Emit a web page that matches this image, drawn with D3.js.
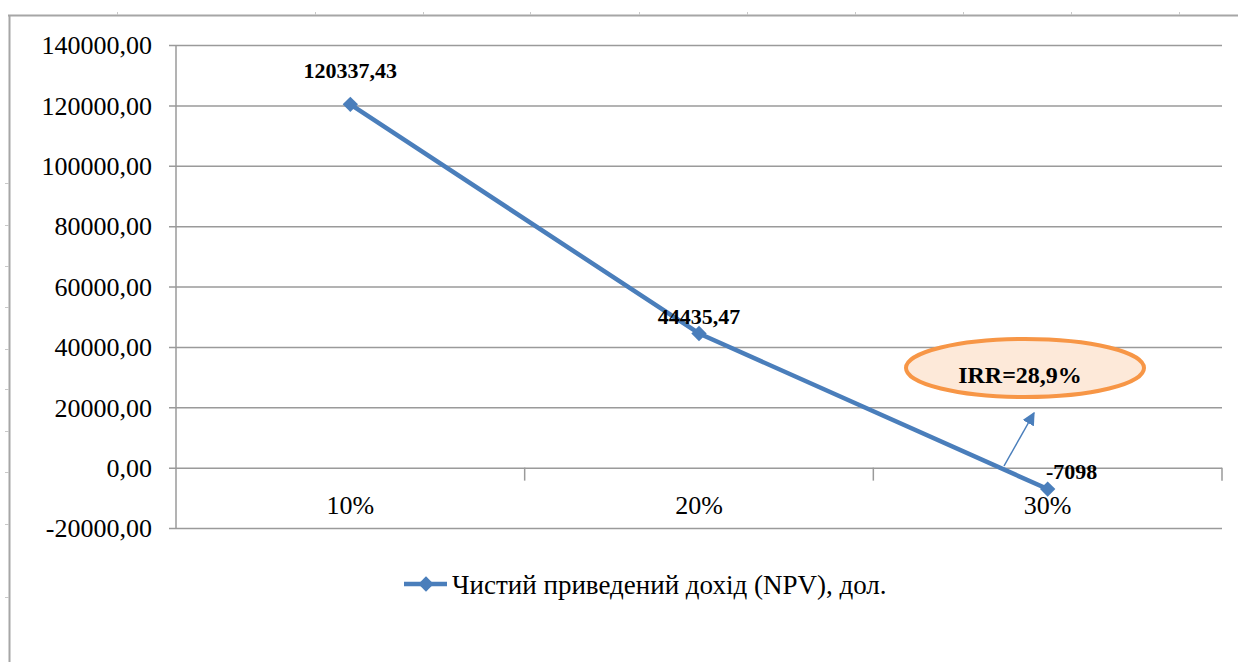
<!DOCTYPE html>
<html>
<head>
<meta charset="utf-8">
<script src="https://cdn.jsdelivr.net/npm/d3@7"></script>
<style>
  html, body { margin: 0; padding: 0; background: #fff; }
  svg { display: block; }
  svg text { font-family: "Times New Roman", "Liberation Serif", Tinos, Times, "DejaVu Serif", serif !important; fill: #000; }
</style>
</head>
<body>
<svg id="chart" width="1238" height="662"></svg>
<script>
// ---- data ----
const categories = ["10%", "20%", "30%"];
const npvValues = [120337.43, 44435.47, -7098];
const npvLabels = ["120337,43", "44435,47", "-7098"];
const yTicks = [-20000, 0, 20000, 40000, 60000, 80000, 100000, 120000, 140000];
const seriesName = "Чистий приведений дохід (NPV), дол.";
const irrLabel = "IRR=28,9%";
const frameTopTicks = [117, 315, 423, 530, 639, 747, 855, 963, 1071, 1179];
const frameLeftTicks = [183, 225, 266, 307, 349, 389, 431, 472, 524, 597];

const svg = d3.select("#chart");
const W = 1238, H = 662;
const plot = { left: 176, right: 1222, top: 45, bottom: 528 };

const x = d3.scaleBand().domain(categories).range([plot.left, plot.right]).padding(0);
const y = d3.scaleLinear().domain([-20000, 140000]).range([plot.bottom, plot.top]);
const cx = d => x(d) + x.bandwidth() / 2;

const gridColor = "#9a9a9a";
const lineColor = "#4a7ebb";

// outer frame (partial border of surrounding object)
svg.append("line").attr("x1", 8).attr("x2", W).attr("y1", 15.5).attr("y2", 15.5)
  .attr("stroke", "#a6a6a6").attr("stroke-width", 2);
svg.append("line").attr("x1", 9.5).attr("x2", 9.5).attr("y1", 15).attr("y2", H)
  .attr("stroke", "#a6a6a6").attr("stroke-width", 2);
svg.selectAll(".ftt").data(frameTopTicks).enter().append("line")
  .attr("x1", d => d + 0.5).attr("x2", d => d + 0.5).attr("y1", 12).attr("y2", 15)
  .attr("stroke", "#c8c8c8").attr("stroke-width", 1);
svg.selectAll(".flt").data(frameLeftTicks).enter().append("line")
  .attr("x1", 5).attr("x2", 9).attr("y1", d => d + 0.5).attr("y2", d => d + 0.5)
  .attr("stroke", "#c8c8c8").attr("stroke-width", 1);

// y gridlines + axis
const yAxis = d3.axisLeft(y).tickValues(yTicks)
  .tickSize(-(plot.right - plot.left))
  .tickFormat(d => d3.format(".2f")(d).replace(".", ",").replace("−", "-"));
const gy = svg.append("g").attr("transform", `translate(${plot.left},0)`).call(yAxis);
gy.attr("font-family", null);
gy.select(".domain").attr("stroke", gridColor).attr("stroke-width", 1.5)
  .attr("d", `M0,${plot.top}V${plot.bottom}`);
gy.selectAll(".tick line").attr("stroke", gridColor).attr("stroke-width", 1.5).attr("x1", -7);
gy.selectAll(".tick text").attr("x", -24).attr("dy", "0.34em")
  .style("font-size", "26px");

// category axis at y = 0
const xAxis = d3.axisBottom(x).tickSize(0).tickFormat(d => d);
const gx = svg.append("g").attr("transform", `translate(0,${y(0)})`).call(xAxis);
gx.attr("font-family", null);
gx.select(".domain").remove();
gx.selectAll(".tick text").attr("y", 46).attr("dy", 0)
  .style("font-size", "26px");
// category separators
const seps = categories.slice(1).map(c => x(c)).concat([plot.right]);
svg.selectAll(".sep").data(seps).enter().append("line")
  .attr("x1", d => d).attr("x2", d => d).attr("y1", y(0)).attr("y2", y(0) + 13)
  .attr("stroke", gridColor).attr("stroke-width", 1.5);

// series line
const pts = categories.map((c, i) => ({ c, v: npvValues[i], label: npvLabels[i] }));
const line = d3.line().x(d => cx(d.c)).y(d => y(d.v));
svg.append("path").datum(pts).attr("d", line)
  .attr("fill", "none").attr("stroke", lineColor).attr("stroke-width", 4.5)
  .attr("stroke-linejoin", "round");
const diamond = d3.symbol().type(d3.symbolDiamond2).size(150);
svg.selectAll(".mk").data(pts).enter().append("path")
  .attr("d", diamond).attr("transform", d => `translate(${cx(d.c)},${y(d.v)})`)
  .attr("fill", lineColor);

// data labels
const labelOffsets = [{ dx: 0, dy: -26 }, { dx: 0, dy: -9 }, { dx: 24, dy: -10 }];
svg.selectAll(".dl").data(pts).enter().append("text")
  .attr("x", (d, i) => cx(d.c) + labelOffsets[i].dx)
  .attr("y", (d, i) => y(d.v) + labelOffsets[i].dy)
  .attr("text-anchor", "middle")
  .style("font-size", "22px").style("font-weight", "bold")
  .text(d => d.label);

// IRR annotation arrow
const defs = svg.append("defs");
defs.append("marker").attr("id", "arrow").attr("viewBox", "0 0 10 10")
  .attr("refX", 9).attr("refY", 5).attr("markerWidth", 13).attr("markerHeight", 13)
  .attr("markerUnits", "userSpaceOnUse").attr("orient", "auto")
  .append("path").attr("d", "M0,0L10,5L0,10Z").attr("fill", lineColor);
svg.append("line").attr("x1", 1004).attr("y1", 466).attr("x2", 1034).attr("y2", 413)
  .attr("stroke", lineColor).attr("stroke-width", 1.5).attr("marker-end", "url(#arrow)");

// IRR ellipse
svg.append("ellipse").attr("cx", 1025).attr("cy", 368).attr("rx", 119).attr("ry", 29)
  .attr("fill", "#fde9d9").attr("stroke", "#f79646").attr("stroke-width", 4);
svg.append("text").attr("x", 1020).attr("y", 383).attr("text-anchor", "middle")
  .style("font-size", "24px").style("font-weight", "bold").text(irrLabel);

// legend
const lg = svg.append("g").attr("transform", "translate(0,584)");
lg.append("line").attr("x1", 404).attr("x2", 447).attr("y1", 0).attr("y2", 0)
  .attr("stroke", lineColor).attr("stroke-width", 4.5);
lg.append("path").attr("d", diamond).attr("transform", "translate(426,0)").attr("fill", lineColor);
lg.append("text").attr("x", 452).attr("y", 10).style("font-size", "27px").text(seriesName);
</script>
</body>
</html>
